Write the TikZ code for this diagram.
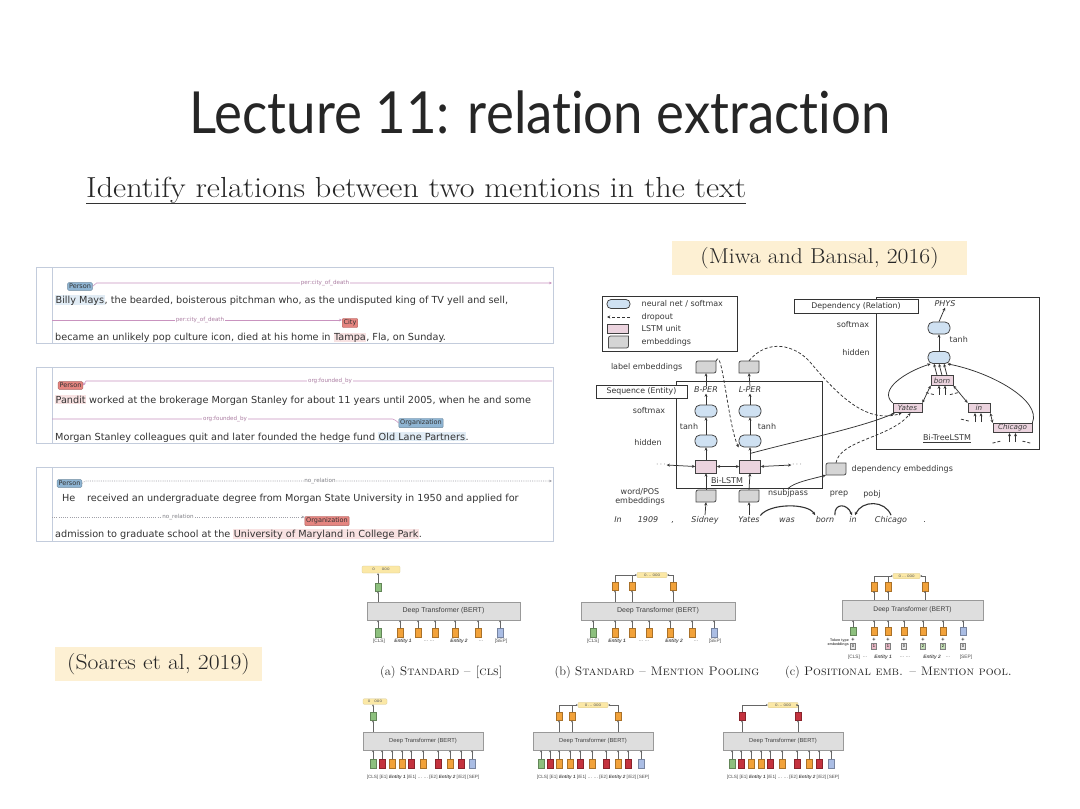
\documentclass[tikz,border=0pt]{standalone}
\usepackage{fontspec}
\usetikzlibrary{arrows.meta,calc}
\newfontfamily\titlefont[Ligatures=NoCommon]{Lato}
\newfontfamily\vfont{DejaVu Sans}
\newfontfamily\afont{Liberation Sans}
\definecolor{citefill}{HTML}{FDF0D3}
\definecolor{panelborder}{HTML}{C3CCDC}
\definecolor{arccol}{HTML}{C993BF}
\definecolor{dotcol}{HTML}{A0A0A8}
\definecolor{bluelab}{HTML}{8FB5D3}
\definecolor{redlab}{HTML}{E58580}
\definecolor{hlred}{HTML}{F8E2E2}
\definecolor{hlblue}{HTML}{E1ECF5}
\definecolor{dk}{HTML}{333333}
\definecolor{nnfill}{HTML}{CFE1F2}
\definecolor{lstmfill}{HTML}{EBD3DE}
\definecolor{embfill}{HTML}{D5D5D5}
\definecolor{tgreen}{HTML}{8DC07E}
\definecolor{torange}{HTML}{F2A23A}
\definecolor{tred}{HTML}{C4323E}
\definecolor{tblue}{HTML}{AABDE4}
\definecolor{tyellow}{HTML}{FBE8A6}
\definecolor{tbox}{HTML}{DEDEDE}
\definecolor{ttpink}{HTML}{E8B9C6}
\definecolor{ttgreen}{HTML}{C3DDB5}
\definecolor{ttgray}{HTML}{E6E6E6}
\newcommand\hlr[1]{{\setlength{\fboxsep}{0.4pt}\colorbox{hlred}{#1}}}
\newcommand\hlb[1]{{\setlength{\fboxsep}{0.4pt}\colorbox{hlblue}{#1}}}
\newcommand\ent[1]{\textbf{\textit{#1}}}
\tikzset{
  ptext/.style={font=\vfont\fontsize{9.7}{11}\selectfont, text=dk, anchor=base west, inner sep=0pt},
  lab/.style={font=\vfont\fontsize{6.5}{7}\selectfont, inner sep=1.4pt, draw=#1!75!black, fill=#1, rounded corners=1pt, text=black!80, line width=0.4pt},
  arcl/.style={draw=arccol, line width=0.55pt},
  dotl/.style={draw=dotcol, line width=0.6pt, dash pattern=on 1pt off 1.2pt},
  arclab/.style={font=\vfont\fontsize{5.6}{6}\selectfont, text=arccol!85!black, fill=white, inner sep=0.8pt},
  dotlab/.style={font=\vfont\fontsize{5.6}{6}\selectfont, text=dotcol!80!black, fill=white, inner sep=0.8pt},
  panel/.style={draw=panelborder, line width=0.7pt},
  smalltip/.style={-{Stealth[length=3pt,width=2.6pt]}},
  mtext/.style={font=\vfont\fontsize{8}{9}\selectfont, text=black!78, inner sep=0.5pt},
  mital/.style={font=\vfont\itshape\fontsize{8}{9}\selectfont, text=black!78, inner sep=0.5pt},
  nn/.style={draw=black!75, fill=nnfill, rounded corners=5pt, minimum width=22pt, minimum height=12pt, line width=0.75pt, inner sep=0pt},
  lstm/.style={draw=black!75, fill=lstmfill, minimum width=21pt, minimum height=13pt, line width=0.75pt, inner sep=0pt},
  tnode/.style={draw=black!75, fill=lstmfill, line width=0.75pt, inner sep=0.6pt, minimum height=9.5pt, font=\vfont\itshape\fontsize{7.2}{8}\selectfont, text=black!75},
  embn/.style={minimum width=20pt, minimum height=12pt, inner sep=0pt},
  boxlab/.style={draw=black!80, fill=white, line width=0.85pt, font=\vfont\fontsize{7.8}{9}\selectfont, text=black!80, inner sep=1pt},
  marr/.style={-{Stealth[length=3.2pt,width=3pt]}, line width=0.75pt, draw=black!80},
  marrb/.style={{Stealth[length=3.2pt,width=3pt]}-{Stealth[length=3.2pt,width=3pt]}, line width=0.75pt, draw=black!80},
  ddash/.style={dash pattern=on 3pt off 2pt},
  embshape/.pic={\draw[fill=embfill, draw=black!70, line width=0.75pt] (-10,6) -- (-10,-1.5) .. controls (-10,-6) .. (-5.5,-6) -- (10,-6) -- (10,1.5) .. controls (10,6) .. (5.5,6) -- cycle;},
  bert/.style={draw=black!40, fill=tbox, inner sep=0pt, font=\afont\fontsize{7}{8}\selectfont, text=black!75, line width=0.5pt},
  tok/.style={draw=#1!70!black, fill=#1, minimum width=6pt, minimum height=8.5pt, inner sep=0pt, line width=0.4pt},
  barr/.style={-{Stealth[length=2pt,width=2pt]}, line width=0.45pt, draw=black!60},
  bline/.style={line width=0.45pt, draw=black!60},
  blab/.style={font=\afont\fontsize{4.8}{5}\selectfont, text=black!70, inner sep=0pt},
  yel/.style={fill=tyellow, draw=tyellow!85!black, line width=0.3pt, rounded corners=1pt, inner sep=0pt, font=\afont\fontsize{4.5}{5}\selectfont, text=black!60},
  capt/.style={font=\fontsize{12.4}{13}\selectfont, text=black!85},
  tt/.style={draw=black!50, fill=#1, minimum width=5pt, minimum height=6pt, inner sep=0pt, font=\afont\fontsize{4}{4}\selectfont},
  plus/.style={font=\afont\bfseries\fontsize{5.5}{5}\selectfont, inner sep=0pt, text=black!80},
  cite/.style={fill=citefill, inner sep=0pt, font=\fontsize{21.5}{24}\selectfont, text=black!85}
}
\begin{document}
\begin{tikzpicture}[x=1pt,y=-1pt]
\useasboundingbox (0,0) rectangle (1080,809);
\fill[white] (0,0) rectangle (1080,809);

% ---------- title ----------
\node[font=\titlefont\fontsize{58}{60}\selectfont, text=black!85, inner sep=0pt] (title) at (540,112) {\scalebox{0.91}[1]{Lecture 11: relation extraction}};
\node[anchor=base west, inner sep=0pt, font=\fontsize{29}{32}\selectfont, text=black!85] (sub) at (86,197) {\scalebox{1.11}[1]{Identify relations between two mentions in the text}};
\draw[line width=1pt, black!80] ($(sub.base west)+(0,6)$) -- ($(sub.base east)+(0,6)$);

\node[cite, minimum width=295pt, minimum height=34pt] (cm) at (819.5,258) {\scalebox{1.1}[1]{(Miwa and Bansal, 2016)}};
\node[cite, minimum width=207pt, minimum height=34pt] (cs) at (158.5,664) {\scalebox{1.1}[1]{(Soares et al, 2019)}};

% ---------- left panels ----------
% panel 1
\draw[panel] (36,267) rectangle (553,343);
\draw[panel] (52,267) -- (52,343);
\coordinate (p1e) at (552,283);
\node[lab=bluelab] (p1per) at (80,286.5) {Person};
\draw[arcl, smalltip] (p1per.east) -- ++(4,-3.5) -- (p1e);
\node[arclab] (p1r) at (325,283) {per:city\_of\_death};
\node[ptext] (p1t1) at (55,303) {\hlb{Billy Mays}, the bearded, boisterous pitchman who, as the undisputed king of TV yell and sell,};
\coordinate (p1s) at (52,320);
\node[lab=redlab] (p1city) at (350,323) {City};
\draw[arcl, smalltip] (p1s) -- (p1city.west |- p1s);
\node[arclab] (p1r2) at (200,320) {per:city\_of\_death};
\node[ptext] (p1t2) at (55,340) {became an unlikely pop culture icon, died at his home in \hlr{Tampa}, Fla, on Sunday.};

% panel 2
\draw[panel] (36,367) rectangle (553,443);
\draw[panel] (52,367) -- (52,443);
\coordinate (p2e) at (552,381);
\node[lab=redlab] (p2per) at (70.5,385.5) {Person};
\draw[arcl, {Stealth[length=3pt,width=2.6pt]}-] (p2per.east) -- ++(3,-4.5) -- (p2e);
\node[arclab] (p2r) at (330,381) {org:founded\_by};
\node[ptext] (p2t1) at (55,403) {\hlr{Pandit} worked at the brokerage Morgan Stanley for about 11 years until 2005, when he and some};
\coordinate (p2s) at (52,419);
\node[lab=bluelab] (p2org) at (421,423) {Organization};
\draw[arcl] (p2s) -- ($(p2org.west |- p2s)+(-6,0)$) to[out=0,in=150] (p2org.west);
\node[arclab] (p2r2) at (225,419) {org:founded\_by};
\node[ptext] (p2t2) at (55,440) {Morgan Stanley colleagues quit and later founded the hedge fund \hlb{Old Lane Partners}.};

% panel 3
\draw[panel] (36,467) rectangle (553,541);
\draw[panel] (52,467) -- (52,541);
\coordinate (p3e) at (552,481);
\node[lab=bluelab] (p3per) at (69.5,483.5) {Person};
\draw[dotl, smalltip] (p3per.east) -- ++(3,-2.5) -- (p3e);
\node[dotlab] (p3r) at (320,481) {no\_relation};
\node[ptext] (p3he) at (62,501) {He};
\node[ptext] (p3t1) at (87,501) {received an undergraduate degree from Morgan State University in 1950 and applied for};
\coordinate (p3s) at (52,517);
\node[lab=redlab] (p3org) at (327,521) {Organization};
\draw[dotl, smalltip] (p3s) -- (p3org.west |- p3s);
\node[dotlab] (p3r2) at (178,517) {no\_relation};
\node[ptext] (p3t2) at (55,537) {admission to graduate school at the \hlr{University of Maryland in College Park}.};

% ---------- Miwa & Bansal ----------
\draw[draw=black!80, line width=0.85pt] (602,296) rectangle (737,351);
\node[nn, minimum width=23pt, minimum height=9pt, rounded corners=4pt] (lgnn) at (618.5,304) {};
\node[mtext, anchor=west] (lgt1) at (641,304) {neural net / softmax};
\coordinate (lgd1) at (607,317);
\coordinate (lgd2) at (630,317);
\draw[marr, ddash] (lgd2) -- (lgd1);
\node[mtext, anchor=west] (lgt2) at (641,317) {dropout};
\node[lstm, minimum width=21pt, minimum height=9pt] (lglstm) at (617.5,329) {};
\node[mtext, anchor=west] (lgt3) at (641,329) {LSTM unit};
\pic at (618.5,342) {embshape};
\node[embn] (lgemb) at (618.5,342) {};
\node[mtext, anchor=west] (lgt4) at (641,342) {embeddings};

\node[mtext, anchor=east] (lblemb) at (683,367) {label embeddings};
\pic at (706,367) {embshape};
\node[embn] (leB) at (706,367) {};
\pic at (749,367) {embshape};
\node[embn] (leL) at (749,367) {};

\draw[draw=black!80, line width=0.85pt] (676,381) rectangle (822,488);
\node[boxlab, minimum width=91pt, minimum height=13pt] (seqlab) at (641.5,391.5) {Sequence (Entity)};
\node[mital] (bper) at (706,390) {B-PER};
\node[mital] (lper) at (750,390) {L-PER};
\node[mtext] (smxl) at (649,411) {softmax};
\node[nn] (sB) at (706,411) {};
\node[nn] (sL) at (750,411) {};
\node[mtext] (tanhB) at (689,427) {tanh};
\node[mtext] (tanhL) at (767,427) {tanh};
\node[mtext] (hidl) at (648,443) {hidden};
\node[nn] (hB) at (706,441) {};
\node[nn] (hL) at (750,441) {};
\node[lstm] (lB) at (706,466.5) {};
\node[lstm] (lL) at (750,466.5) {};
\node[mtext] (dotsL) at (661,465) {$\cdots$};
\node[mtext] (dotsR) at (797,465) {$\cdots$};
\node[mtext] (bilstm) at (727,482) {\underline{Bi-LSTM}};
\node[mtext, align=center] (wpos) at (640,496.5) {word/POS\\embeddings};
\pic at (706,496) {embshape};
\node[embn] (eB) at (706,496) {};
\pic at (749,496) {embshape};
\node[embn] (eL) at (749,496) {};

\node[mital, anchor=base] (wIn) at (618,522) {In};
\node[mital, anchor=base] (w1909) at (648,522) {1909};
\node[mital, anchor=base] (wcomma) at (673,522) {,};
\node[mital, anchor=base] (wSidney) at (705,522) {Sidney};
\node[mital, anchor=base] (wYates) at (749,522) {Yates};
\node[mital, anchor=base] (wwas) at (787,522) {was};
\node[mital, anchor=base] (wborn) at (825,522) {born};
\node[mital, anchor=base] (win) at (853,522) {in};
\node[mital, anchor=base] (wChicago) at (891,522) {Chicago};
\node[mital, anchor=base] (wdot) at (925,522) {.};

\draw[marr] (wSidney.north) -- (eB.south);
\draw[marr] (wYates.north) -- (eL.south);
\draw[marr] (eB.north) -- (lB.south);
\draw[marr] (eL.north) -- (lL.south);
\draw[marr] (lB.north) -- (hB.south);
\draw[marr] (lL.north) -- (hL.south);
\draw[marr] (hB.north) -- (sB.south);
\draw[marr] (hL.north) -- (sL.south);
\draw[marr] (sB.north) -- (bper.south);
\draw[marr] (sL.north) -- (lper.south);
\draw[marr] (bper.north) -- (leB.south);
\draw[marr] (lper.north) -- (leL.south);
\draw[marrb] (dotsL.east) -- (lB.west);
\draw[marrb] (lB.east) -- (lL.west);
\draw[marrb] (lL.east) -- (dotsR.west);

% dependency tree box
\draw[draw=black!80, line width=0.85pt] (876,297) rectangle (1039,449);
\node[boxlab, minimum width=124pt, minimum height=14pt] (deplab) at (856,306) {Dependency (Relation)};
\node[mital] (phys) at (945,304) {PHYS};
\node[mtext] (smxr) at (853,325) {softmax};
\node[nn] (sR) at (939,328) {};
\node[mtext, anchor=west] (tanhR) at (949,340) {tanh};
\node[mtext] (hidr) at (856,353) {hidden};
\node[nn] (hR) at (939,357.5) {};
\node[tnode, minimum width=22pt] (born) at (942,380.5) {born};
\node[tnode, minimum width=29pt] (yates) at (907.5,408) {Yates};
\node[tnode, minimum width=22pt] (tin) at (979,408) {in};
\node[tnode, minimum width=39pt] (chic) at (1012.5,428) {Chicago};
\node[mtext] (bitree) at (947,438.5) {\underline{Bi-TreeLSTM}};

\draw[marr] (hR.north) -- (sR.south);
\draw[marr] (sR.north) -- (phys.south);
\foreach \d in {-5,0,5} \draw[marr] ($(born.north)+(\d,0)$) -- ($(hR.south)+(\d,0)$);
\draw[marr] (yates.north west) .. controls (878,390) and (905,372) .. ($(hR.south west)+(3,0)$);
\draw[marr] (chic.north east) .. controls (1042,400) and (990,372) .. ($(hR.south east)+(-3,0)$);
\draw[marrb] (yates.north east) -- (born.south west);
\draw[marrb] (tin.north west) -- (born.south east);
\draw[marrb] (tin.south east) -- (chic.north west);
% dropout / input stubs
\foreach \d in {-3,3} \draw[marr] ($(born.south)+(\d,9)$) -- ($(born.south)+(\d,0)$);
\draw[line width=0.75pt, black!80, ddash] ($(born.south)+(-16,7)$) -- ($(born.south)+(-8,9)$);
\draw[line width=0.75pt, black!80, ddash] ($(born.south)+(8,9)$) -- ($(born.south)+(16,7)$);
\foreach \d in {-4,2} \draw[marr] ($(tin.south)+(\d,9)$) -- ($(tin.south)+(\d,0)$);
\draw[line width=0.75pt, black!80, ddash] ($(tin.south)+(-18,6)$) -- ($(tin.south)+(-10,8)$);
\foreach \d in {-3,3} \draw[marr] ($(chic.south)+(\d,9)$) -- ($(chic.south)+(\d,0)$);
\draw[line width=0.75pt, black!80, ddash] ($(chic.south)+(-20,10)$) -- ($(chic.south)+(-12,8)$);
\draw[line width=0.75pt, black!80, ddash] ($(chic.south)+(10,8)$) -- ($(chic.south)+(18,10)$);

% cross connections
\draw[marr, ddash] (leB.north east) .. controls (722,345) and (728,425) .. (hL.south west);
\draw[marr, ddash] (leL.north) .. controls (768,338) and (795,345) .. (810,362) .. controls (840,398) and (868,424) .. ($(yates.south)+(-6,0)$);
\coordinate (lLout) at ($(lL.north)!0.5!(hL.south)$);
\draw[marr] (lLout) .. controls (800,440) and (860,428) .. ($(yates.south west)+(2,0)$);

\pic at (836,469) {embshape};
\node[embn] (demb) at (836,469) {};
\node[mtext, anchor=west] (dembt) at (851,469) {dependency embeddings};
\node[mtext] (nsubj) at (788,493) {nsubjpass};
\node[mtext] (prep) at (839,494.5) {prep};
\node[mtext] (pobj) at (872,494.5) {pobj};
\draw[marr] (nsubj.north) .. controls (795,482) and (812,479) .. (demb.south west);
\draw[marr, ddash] (demb.north) .. controls (840,440) and (890,438) .. ($(yates.south)+(3,0)$);
\draw[marr, line width=1.1pt] (wYates.north east) .. controls (770,503) and (808,503) .. (wborn.north west);
\draw[marr, line width=1.1pt] (wborn.north east) .. controls (834,503) and (847,503) .. ($(win.north)+(-1,0)$);
\draw[marr, line width=1.1pt] (wChicago.north) .. controls (885,500) and (862,500) .. ($(win.north)+(2,0)$);

% ---------- Soares et al. BERT panels ----------
% (a)
\node[bert, minimum width=153pt, minimum height=18pt] (Ta) at (443.5,611) {Deep Transformer (BERT)};
\foreach \x/\col [count=\i] in {378/tgreen,400/torange,418/torange,435/torange,455/torange,478/torange,500/tblue}{
  \node[tok=\col] (a\i) at (\x,632.5) {};
  \draw[barr] (a\i.north) -- (a\i.north |- Ta.south);
}
\node[blab] (al1) at (379,641.5) {[CLS]};
\node[blab] (al2) at (403,641.5) {\ent{Entity 1}};
\node[blab] (al3) at (429,641.5) {\ldots\ \ldots};
\node[blab] (al4) at (459,641.5) {\ent{Entity 2}};
\node[blab] (al5) at (481,641.5) {\ldots};
\node[blab] (al6) at (501,641.5) {[SEP]};
\node[tok=tgreen] (ao) at (378,587) {};
\draw[barr] (ao.south |- Ta.north) -- (ao.south);
\node[yel, minimum width=38pt, minimum height=7pt] (ay) at (381,569.5) {o\hspace{7pt}ooo};
\draw[barr] (ao.north) -- (ao.north |- ay.south);
\node[capt] (acap) at (441.5,672) {(a) \textsc{Standard – [cls]}};

% (b)
\node[bert, minimum width=154pt, minimum height=18pt] (Tb) at (658,611) {Deep Transformer (BERT)};
\foreach \x/\col [count=\i] in {593/tgreen,615/torange,632/torange,649/torange,670/torange,692/torange,714/tblue}{
  \node[tok=\col] (b\i) at (\x,632.5) {};
  \draw[barr] (b\i.north) -- (b\i.north |- Tb.south);
}
\node[blab] (bl1) at (593,641.5) {[CLS]};
\node[blab] (bl2) at (617,641.5) {\ent{Entity 1}};
\node[blab] (bl3) at (644,641.5) {\ldots\ \ldots};
\node[blab] (bl4) at (674,641.5) {\ent{Entity 2}};
\node[blab] (bl5) at (696,641.5) {\ldots};
\node[blab] (bl6) at (715,641.5) {[SEP]};
\node[tok=torange] (bo1) at (615,586) {};
\node[tok=torange] (bo2) at (632,586) {};
\node[tok=torange] (bo3) at (673,586) {};
\node[yel, minimum width=30pt, minimum height=5.5pt] (by) at (652,575) {o\,\ldots\,ooo};
\foreach \k in {1,2,3} \draw[barr] (bo\k.south |- Tb.north) -- (bo\k.south);
\draw[barr] (bo1.north) |- (by.west);
\draw[bline] (bo2.north) -- (bo2.north |- by.west);
\draw[barr] (bo3.north) |- (by.east);
\node[capt] (bcap) at (657,672) {(b) \textsc{Standard – Mention Pooling}};

% (c)
\node[bert, minimum width=141pt, minimum height=20pt, font=\afont\fontsize{6.7}{7}\selectfont] (Tc) at (912.5,610) {Deep Transformer (BERT)};
\foreach \x/\col/\n/\tcol [count=\i] in {853/tgreen/0/ttgray,874/torange/1/ttpink,888/torange/1/ttpink,904/torange/0/ttgray,923/torange/2/ttgreen,943/torange/2/ttgreen,963/tblue/0/ttgray}{
  \node[tok=\col] (c\i) at (\x,631) {};
  \draw[barr] (c\i.north) -- (c\i.north |- Tc.south);
  \node[plus] (cp\i) at (\x,639.5) {+};
  \node[tt=\tcol] (ct\i) at (\x,646.5) {\n};
}
\node[blab, align=right, anchor=east, font=\afont\bfseries\fontsize{3.6}{4}\selectfont] (ttl) at (849,643) {Token type\\embeddings};
\node[blab] (cl1) at (854,657) {[CLS]};
\node[blab] (cl2) at (865,657) {\ldots};
\node[blab] (cl3) at (883,657) {\ent{Entity 1}};
\node[blab] (cl4) at (905,657) {\ldots\ \ldots};
\node[blab] (cl5) at (932,657) {\ent{Entity 2}};
\node[blab] (cl6) at (948,657) {\ldots};
\node[blab] (cl7) at (966,657) {[SEP]};
\node[tok=torange] (co1) at (874,586.5) {};
\node[tok=torange] (co2) at (888,586.5) {};
\node[tok=torange] (co3) at (925,586.5) {};
\node[yel, minimum width=27pt, minimum height=5.5pt] (cy) at (906.5,576) {o\,\ldots\,ooo};
\foreach \k in {1,2,3} \draw[barr] (co\k.south |- Tc.north) -- (co\k.south);
\draw[barr] (co1.north) |- (cy.west);
\draw[bline] (co2.north) -- (co2.north |- cy.west);
\draw[barr] (co3.north) |- (cy.east);
\node[capt] (ccap) at (898.5,672) {(c) \textsc{Positional emb. – Mention pool.}};

% (d)
\node[bert, minimum width=120pt, minimum height=18pt, font=\afont\fontsize{5.8}{6}\selectfont] (Td) at (423,741) {Deep Transformer (BERT)};
\foreach \x/\col [count=\i] in {373/tgreen,382/tred,392/torange,402/torange,411/tred,423/torange,438/tred,450/torange,461/tred,472/tblue}{
  \node[tok=\col] (d\i) at (\x,763.5) {};
  \draw[barr] (d\i.north) -- (d\i.north |- Td.south);
}
\node[blab, font=\afont\fontsize{4.6}{5}\selectfont] (dl) at (423,777) {[CLS] [E1] \ent{Entity 1} [/E1] \ldots\ \ldots\ [E2] \ent{Entity 2} [/E2] [SEP]};
\node[tok=tgreen] (do) at (373,716) {};
\draw[barr] (do.south |- Td.north) -- (do.south);
\node[yel, minimum width=24pt, minimum height=5.5pt] (dy) at (375,701.5) {o\hspace{4pt}ooo};
\draw[barr] (do.north) -- (do.north |- dy.south);

% (e)
\node[bert, minimum width=120pt, minimum height=18pt, font=\afont\fontsize{5.8}{6}\selectfont] (Te) at (593,741) {Deep Transformer (BERT)};
\foreach \x/\col [count=\i] in {541/tgreen,550/tred,559/torange,570/torange,580/tred,592/torange,606/tred,618/torange,628/tred,641/tblue}{
  \node[tok=\col] (e\i) at (\x,763.5) {};
  \draw[barr] (e\i.north) -- (e\i.north |- Te.south);
}
\node[blab, font=\afont\fontsize{4.6}{5}\selectfont] (el) at (593,777) {[CLS] [E1] \ent{Entity 1} [/E1] \ldots\ \ldots\ [E2] \ent{Entity 2} [/E2] [SEP]};
\node[tok=torange] (eo1) at (559,716) {};
\node[tok=torange] (eo2) at (572,716) {};
\node[tok=torange] (eo3) at (618,716) {};
\node[yel, minimum width=30pt, minimum height=5.5pt] (ey) at (593,705) {o\,\ldots\,ooo};
\foreach \k in {1,2,3} \draw[barr] (eo\k.south |- Te.north) -- (eo\k.south);
\draw[barr] (eo1.north) |- (ey.west);
\draw[bline] (eo2.north) -- (eo2.north |- ey.west);
\draw[barr] (eo3.north) |- (ey.east);

% (f)
\node[bert, minimum width=120pt, minimum height=18pt, font=\afont\fontsize{5.8}{6}\selectfont] (Tf) at (783,741) {Deep Transformer (BERT)};
\foreach \x/\col [count=\i] in {732/tgreen,741/tred,751/torange,761/torange,770/tred,782/torange,797/tred,809/torange,819/tred,831/tblue}{
  \node[tok=\col] (f\i) at (\x,763.5) {};
  \draw[barr] (f\i.north) -- (f\i.north |- Tf.south);
}
\node[blab, font=\afont\fontsize{4.6}{5}\selectfont] (fl) at (783,777) {[CLS] [E1] \ent{Entity 1} [/E1] \ldots\ \ldots\ [E2] \ent{Entity 2} [/E2] [SEP]};
\node[tok=tred] (fo1) at (742,716) {};
\node[tok=tred] (fo2) at (798,716) {};
\node[yel, minimum width=30pt, minimum height=5.5pt] (fy) at (783,705) {o\,\ldots\,ooo};
\foreach \k in {1,2} \draw[barr] (fo\k.south |- Tf.north) -- (fo\k.south);
\draw[barr] (fo1.north) |- (fy.west);
\draw[barr] (fo2.north) |- (fy.east);
\end{tikzpicture}
\end{document}
